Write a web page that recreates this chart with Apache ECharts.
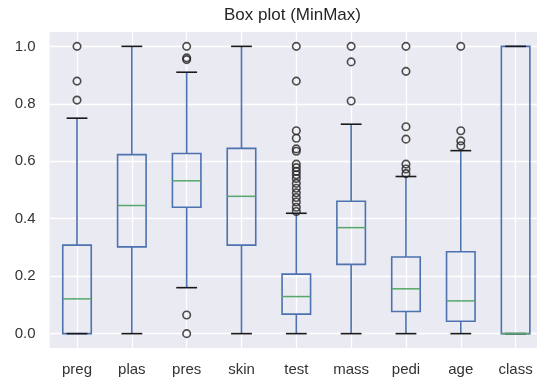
<!DOCTYPE html>
<html><head><meta charset="utf-8">
<script src="https://cdn.jsdelivr.net/npm/echarts@6/dist/echarts.min.js"></script>
<style>html,body{margin:0;padding:0;background:#fff}#c{width:537px;height:383px}</style>
</head><body><div id="c"></div>
<script>
const categories = ['preg','plas','pres','skin','test','mass','pedi','age','class'];
const whiskerLow = [0, 0, 0.16, 0, 0, 0, 0, 0, 0];
const q1 = [0, 0.302, 0.44, 0.308, 0.068, 0.241, 0.077, 0.043, 0];
const median = [0.121, 0.446, 0.532, 0.478, 0.129, 0.369, 0.156, 0.114, 0];
const q3 = [0.308, 0.623, 0.627, 0.645, 0.207, 0.461, 0.267, 0.285, 1.0];
const whiskerHigh = [0.75, 1.0, 0.91, 1.0, 0.419, 0.729, 0.547, 0.637, 1.0];
const outliers = [
  [0.813, 0.879, 1.0],
  [],
  [0, 0.065, 0.954, 0.96, 1.0],
  [],
  [0.425, 0.44, 0.458, 0.474, 0.49, 0.506, 0.523, 0.54, 0.553, 0.565, 0.578, 0.59, 0.635, 0.643, 0.68, 0.706, 0.879, 1.0],
  [0.81, 0.946, 1.0],
  [0.557, 0.573, 0.59, 0.677, 0.72, 0.913, 1.0],
  [0.654, 0.671, 0.706, 1.0],
  []
];
const yTicks = [0, 0.2, 0.4, 0.6, 0.8, 1.0];

const positions = categories.map((c, i) => i + 1);
const boxData = categories.map((c, i) => [positions[i], whiskerLow[i], q1[i], median[i], q3[i], whiskerHigh[i]]);
const outlierData = [];
outliers.forEach((arr, i) => arr.forEach(v => outlierData.push([positions[i], v])));

const BLUE = '#4C72B0', GREEN = '#55A868', CAP = '#1a1a1a';
const chart = echarts.init(document.getElementById('c'), null, {renderer: 'canvas'});
chart.setOption({
  animation: false,
  title: {
    text: 'Box plot (MinMax)', left: 224, top: 7, padding: 0,
    textStyle: {fontFamily: 'Liberation Sans', fontSize: 17, fontWeight: 'normal', color: '#262626'}
  },
  grid: {left: 49.6, right: 0, top: 32, bottom: 35, show: true, backgroundColor: '#EAEAF2', borderWidth: 0},
  xAxis: {
    type: 'value', min: 0.5, max: 9.39,
    axisLine: {show: false},
    axisTick: {show: false, customValues: positions},
    axisLabel: {customValues: positions, formatter: v => categories[Math.round(v) - 1], margin: 14,
      fontFamily: 'Liberation Sans', fontSize: 15, color: '#333'},
    splitLine: {show: true, lineStyle: {color: '#fff', width: 1.3}}
  },
  yAxis: {
    type: 'value', min: -0.05, max: 1.05,
    axisLine: {show: false},
    axisTick: {show: false, customValues: yTicks},
    axisLabel: {customValues: yTicks, formatter: v => v.toFixed(1), margin: 14,
      fontFamily: 'Liberation Sans', fontSize: 15, color: '#333'},
    splitLine: {show: true, lineStyle: {color: '#fff', width: 1.3}}
  },
  series: [
    {
      type: 'custom',
      data: boxData,
      encode: {x: 0, y: [1, 2, 3, 4, 5]},
      renderItem: function (params, api) {
        const x = api.value(0);
        const cx = api.coord([x, 0])[0];
        const yLo = api.coord([x, api.value(1)])[1];
        const yQ1 = api.coord([x, api.value(2)])[1];
        const yMed = api.coord([x, api.value(3)])[1];
        const yQ3 = api.coord([x, api.value(4)])[1];
        const yHi = api.coord([x, api.value(5)])[1];
        const band = api.size([1, 0])[0];
        const bw = band * 0.52, cw = band * 0.38;
        const blue = {stroke: BLUE, lineWidth: 1.6, fill: null};
        return {
          type: 'group',
          children: [
            {type: 'rect', shape: {x: cx - bw / 2, y: yQ3, width: bw, height: yQ1 - yQ3}, style: blue},
            {type: 'line', shape: {x1: cx, y1: yQ1, x2: cx, y2: yLo}, style: blue},
            {type: 'line', shape: {x1: cx, y1: yQ3, x2: cx, y2: yHi}, style: blue},
            {type: 'line', shape: {x1: cx - cw / 2, y1: yLo, x2: cx + cw / 2, y2: yLo}, style: {stroke: CAP, lineWidth: 1.6}},
            {type: 'line', shape: {x1: cx - cw / 2, y1: yHi, x2: cx + cw / 2, y2: yHi}, style: {stroke: CAP, lineWidth: 1.6}},
            {type: 'line', shape: {x1: cx - bw / 2, y1: yMed, x2: cx + bw / 2, y2: yMed}, style: {stroke: GREEN, lineWidth: 1.5}}
          ]
        };
      }
    },
    {
      type: 'scatter',
      data: outlierData,
      symbol: 'circle',
      symbolSize: 7.5,
      clip: false,
      itemStyle: {color: 'rgba(0,0,0,0)', borderColor: '#222', borderWidth: 1.6},
      z: 5
    }
  ]
});
</script></body></html>
